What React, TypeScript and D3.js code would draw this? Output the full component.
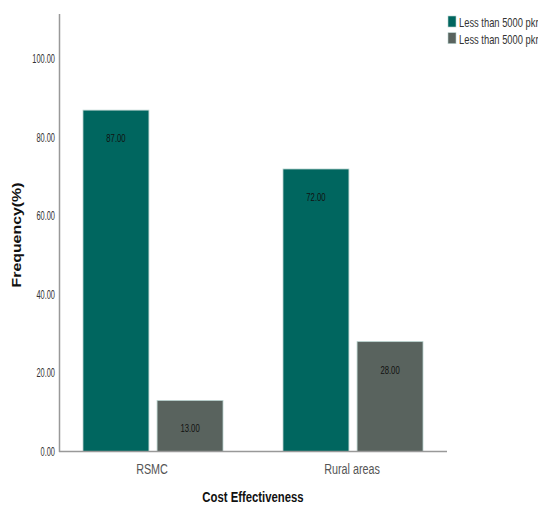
import React from "react";
import * as d3 from "d3";

const categories = ["RSMC", "Rural areas"];
const seriesNames = ["Less than 5000 pkr", "Less than 5000 pkr"];
const seriesA = [87, 72];
const seriesB = [13, 28];
const yTicks = [0, 20, 40, 60, 80, 100];
const colors = ["#00665f", "#59635e"];

const W = 538;
const H = 506;
const SANS = "'Liberation Sans', Arial, sans-serif";

function T(props: {
  x: number;
  y: number;
  sx: number;
  size: number;
  anchor?: "start" | "middle" | "end";
  fill?: string;
  weight?: string;
  children: React.ReactNode;
}) {
  return (
    <g transform={`translate(${props.x},${props.y}) scale(${props.sx},1)`}>
      <text
        x={0}
        y={0}
        textAnchor={props.anchor ?? "start"}
        fontFamily={SANS}
        fontSize={props.size}
        fontWeight={props.weight ?? "normal"}
        fill={props.fill ?? "#333"}
      >
        {props.children}
      </text>
    </g>
  );
}

export default function App() {
  const y = d3.scaleLinear().domain([0, 111.5]).range([451.5, 14]);
  const x = d3.scaleBand<string>().domain(categories).range([53, 453]).paddingInner(0).paddingOuter(0);
  const keys = ["a", "b"];
  const xi = d3.scaleBand<string>().domain(keys).range([30, 170]).paddingInner(0.11);
  const series = [seriesA, seriesB];
  const fmt = d3.format(".2f");

  return (
    <svg width={W} height={H} style={{ position: "absolute", left: 0, top: 0, background: "#fff" }}>
      {/* bars */}
      {categories.map((c, ci) =>
        series.map((s, si) => {
          const v = s[ci];
          const bx = (x(c) ?? 0) + (xi(keys[si]) ?? 0);
          const by = y(v);
          const bw = xi.bandwidth();
          const bh = y(0) - y(v);
          return (
            <g key={c + si}>
              <rect x={bx} y={by} width={bw} height={bh} fill={colors[si]} stroke="#b9d3cf" strokeWidth={0.8} />
              <T x={bx + bw / 2} y={by + 32} sx={0.67} size={11.5} anchor="middle" fill="#111">
                {fmt(v)}
              </T>
            </g>
          );
        })
      )}
      {/* y axis */}
      <line x1={59.5} x2={59.5} y1={14} y2={452} stroke="#999" strokeWidth={1.5} />
      {yTicks.map((t) => (
        <T key={t} x={55} y={y(t) + 4.3} sx={0.62} size={12} anchor="end" fill="#333">
          {fmt(t)}
        </T>
      ))}
      {/* x axis */}
      <line x1={59} x2={447} y1={451.5} y2={451.5} stroke="#999" strokeWidth={1.5} />
      {categories.map((c) => (
        <T key={c} x={(x(c) ?? 0) + x.bandwidth() / 2 - 1} y={473.5} sx={0.72} size={15} anchor="middle" fill="#555">
          {c}
        </T>
      ))}
      {/* axis titles */}
      <text
        transform={`translate(21,235) rotate(-90) scale(1.22,1)`}
        textAnchor="middle"
        fontFamily={SANS}
        fontWeight="bold"
        fontSize={13}
        fill="#111"
      >
        Frequency(%)
      </text>
      <T x={253} y={502} sx={0.81} size={14} anchor="middle" weight="bold" fill="#111">
        Cost Effectiveness
      </T>
      {/* legend */}
      {seriesNames.map((n, i) => (
        <g key={i} transform={`translate(448,${16 + i * 16.7})`}>
          <rect x={0} y={0} width={8} height={11} fill={colors[i]} stroke="#b9d3cf" strokeWidth={0.6} />
          <T x={11} y={11.3} sx={0.72} size={13} fill="#333">
            {n}
          </T>
        </g>
      ))}
    </svg>
  );
}
